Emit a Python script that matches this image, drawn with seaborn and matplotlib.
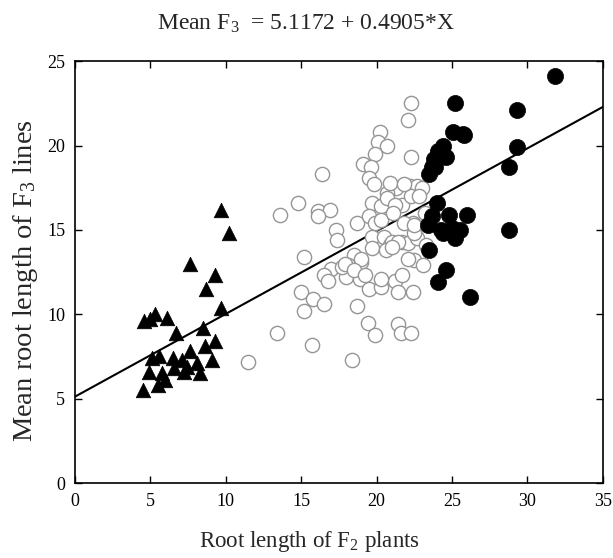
import numpy as np
import pandas as pd
import matplotlib
matplotlib.use('Agg')
import matplotlib.pyplot as plt
import seaborn as sns

# low-root-length group (filled triangles)
tri_x = [9.7, 10.2, 7.6, 9.3, 8.7, 9.7, 4.6, 5.0, 5.3, 6.1, 6.7, 8.5, 9.3, 8.6, 9.1,
         7.6, 5.1, 5.6, 6.5, 7.1, 8.1, 4.9, 5.8, 6.6, 7.2, 7.4, 8.3, 6.0, 5.5, 4.5]
tri_y = [16.2, 14.8, 13.0, 12.3, 11.5, 10.4, 9.6, 9.7, 10.0, 9.8, 8.9, 9.2, 8.4, 8.1, 7.3,
         7.8, 7.4, 7.5, 7.4, 7.3, 7.1, 6.6, 6.5, 6.8, 6.6, 6.9, 6.5, 6.1, 5.8, 5.5]

# intermediate group (open circles)
open_x = [20.2, 20.1, 20.7, 19.9, 19.1, 19.6, 19.5, 19.8, 16.4, 21.3, 20.7, 14.8, 13.6,
          16.1, 16.9, 16.1, 19.7, 20.3, 18.7, 19.5, 19.9, 17.3, 17.4, 19.7, 20.5, 20.9,
          19.7, 15.2, 18.5, 19.0, 18.1, 17.0, 16.5, 18.0, 18.9, 16.8, 19.5, 20.3, 21.2,
          15.0, 15.8, 16.5, 15.2, 18.7, 19.4, 19.9, 21.4, 13.4, 15.7, 11.5, 18.4,
          22.3, 22.1, 22.3, 22.2, 22.7, 21.7, 22.3, 23.2, 22.4,
          21.0, 21.7, 22.1, 22.7, 20.6, 22.5, 23.1, 17.7, 21.7, 21.4, 22.4, 21.6, 22.3,
          22.5, 23.3,
          20.9, 21.8, 23.0, 20.7, 22.8, 21.2, 20.3, 21.1, 21.8, 22.5, 21.4, 21.0,
          19.0, 17.9, 18.5, 19.2, 20.3, 22.1]
open_y = [20.8, 20.2, 20.0, 19.5, 18.9, 18.7, 18.1, 17.7, 18.3, 17.5, 17.2, 16.6, 15.9,
          16.1, 16.2, 15.8, 16.6, 16.4, 15.4, 15.8, 15.4, 15.0, 14.4, 14.6, 14.6, 14.1,
          13.9, 13.4, 13.5, 13.1, 12.9, 12.7, 12.3, 12.2, 12.1, 12.0, 11.5, 11.6, 12.0,
          11.3, 10.9, 10.6, 10.2, 10.5, 9.5, 8.8, 9.4, 8.9, 8.2, 7.2, 7.3,
          22.5, 21.5, 19.3, 17.6, 17.6, 16.5, 17.0, 16.0, 15.4,
          14.3, 14.3, 14.2, 14.5, 13.8, 13.2, 12.9, 12.8, 12.3, 11.3, 11.3, 8.9, 8.9,
          14.8, 14.1,
          17.8, 17.7, 17.5, 16.9, 17.0, 16.5, 15.6, 16.0, 15.4, 15.3, 14.3, 14.0,
          13.3, 13.0, 12.6, 12.3, 12.1, 13.3]

# high-root-length group (filled circles)
fill_x = [31.8, 25.2, 29.3, 25.1, 25.7, 25.8, 24.4, 24.1, 24.6, 23.8, 23.7, 23.9, 23.5,
          29.3, 28.8, 24.0, 23.7, 24.8, 26.0, 23.4, 24.3, 25.0, 25.5, 25.2, 24.4, 23.5,
          28.8, 24.6, 24.1, 26.2]
fill_y = [24.1, 22.5, 22.1, 20.8, 20.7, 20.6, 20.0, 19.7, 19.3, 19.2, 18.7, 18.7, 18.3,
          19.9, 18.7, 16.6, 15.8, 15.9, 15.9, 15.3, 15.0, 15.1, 15.0, 14.5, 14.8, 13.8,
          15.0, 12.6, 11.9, 11.0]

intercept, slope = 5.1172, 0.4905
line_x = np.array([0, 35])

sns.set_style('ticks')
plt.rcParams['font.family'] = ['Liberation Serif', 'DejaVu Serif']
plt.rcParams['mathtext.fontset'] = 'custom'
plt.rcParams['mathtext.rm'] = 'Liberation Serif'
plt.rcParams['mathtext.it'] = 'Liberation Serif:italic'

fig = plt.figure(figsize=(6.13, 5.58), dpi=100)
ax = fig.add_axes([0.1223, 0.1344, 0.861, 0.756])

sns.lineplot(x=line_x, y=intercept + slope * line_x, color='black', linewidth=1.5, ax=ax)
sns.scatterplot(x=open_x, y=open_y, marker='o', s=105, facecolor='white',
                edgecolor='#959595', linewidth=1.0, ax=ax, zorder=3)
sns.scatterplot(x=tri_x, y=tri_y, marker='^', s=110, color='black',
                edgecolor='black', linewidth=0.5, ax=ax, zorder=4)
sns.scatterplot(x=fill_x, y=fill_y, marker='o', s=135, color='black',
                edgecolor='black', linewidth=0.5, ax=ax, zorder=4)

ax.set_xlim(0, 35)
ax.set_ylim(0, 25)
ax.set_xticks(range(0, 36, 5))
ax.set_yticks(range(0, 26, 5))
ax.tick_params(direction='in', top=True, right=True, length=5, width=1,
               labelsize=13, colors='black', pad=7)
for sp in ax.spines.values():
    sp.set_linewidth(1.2)
    sp.set_color('black')
ax.set_xlabel('')
ax.set_ylabel('')

fig.text(0.5, 0.958, r'Mean F$\mathrm{_3}$  = 5.1172 + 0.4905*X', ha='center', va='center', fontsize=17)
fig.text(0.505, 0.03, r'Root length of F$\mathrm{_2}$ plants', ha='center', va='center', fontsize=16.5)
fig.text(0.042, 0.497, r'Mean root length of F$\mathrm{_3}$ lines', ha='center', va='center',
         rotation=90, fontsize=20.5)

fig.savefig('out.png', dpi=100)
